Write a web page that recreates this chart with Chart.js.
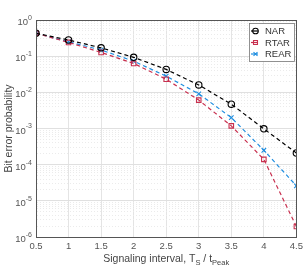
<!DOCTYPE html>
<html>
<head>
<meta charset="utf-8">
<script src="https://cdn.jsdelivr.net/npm/chart.js@4/dist/chart.umd.min.js"></script>
<style>
html,body{margin:0;padding:0;background:#fff;}
#c{display:block;}
</style>
</head>
<body>
<canvas id="c" width="307" height="270"></canvas>
<script>
// ---- data ----
const intervals = [0.5, 1, 1.5, 2, 2.5, 3, 3.5, 4, 4.5];
const narValues  = [0.43, 0.28, 0.17, 0.093, 0.043, 0.016, 0.0047, 0.00098, 0.00021];
const rtarValues = [0.43, 0.24, 0.127, 0.063, 0.023, 0.0061, 0.00118, 0.00014, 0.00000195];
const rearValues = [0.43, 0.25, 0.148, 0.073, 0.028, 0.0091, 0.0020, 0.00025, 0.000026];
const seriesNames = ['NAR', 'RTAR', 'REAR'];
const yExponents = [0, -1, -2, -3, -4, -5, -6];
const xTickLabels = ['0.5', '1', '1.5', '2', '2.5', '3', '3.5', '4', '4.5'];

const FONT = '"Liberation Sans", Arial, Helvetica, sans-serif';
const colors = ['#000000', '#c8304f', '#1f8ee0'];
const styles = ['circle', 'rect', 'crossRot'];

function pts(vals){ return intervals.map((x,i)=>({x:x, y:vals[i]})); }
const allSeries = [narValues, rtarValues, rearValues];

const datasets = allSeries.map((vals, i) => ({
  label: seriesNames[i],
  data: pts(vals),
  borderColor: colors[i],
  backgroundColor: 'rgba(0,0,0,0)',
  borderWidth: 1.2,
  borderDash: [4, 3],
  pointStyle: styles[i],
  pointRadius: 3.2,
  pointBorderWidth: 1.1,
  pointBackgroundColor: 'rgba(0,0,0,0)',
  pointBorderColor: colors[i],
  tension: 0,
  fill: false
}));

function isMajorVal(v){
  const l = Math.log10(v);
  return Math.abs(l - Math.round(l)) < 1e-9;
}

const decorPlugin = {
  id: 'decor',
  afterDraw(chart){
    const ctx = chart.ctx;
    const a = chart.chartArea;
    const ys = chart.scales.y;
    ctx.save();
    // box
    ctx.strokeStyle = '#555';
    ctx.lineWidth = 1;
    ctx.strokeRect(Math.round(a.left)+0.5, Math.round(a.top)+0.5, Math.round(a.right-a.left), Math.round(a.bottom-a.top));

    // y tick labels 10^e
    ctx.fillStyle = '#555';
    ctx.textBaseline = 'middle';
    yExponents.forEach(e => {
      const y = ys.getPixelForValue(Math.pow(10, e));
      const expTxt = e === 0 ? '0' : '-' + Math.abs(e);
      ctx.font = '7px ' + FONT;
      ctx.textAlign = 'right';
      const rx = a.left - 4;
      ctx.fillText(expTxt, rx, y - 2);
      const ew = ctx.measureText(expTxt).width;
      ctx.font = '9.5px ' + FONT;
      ctx.fillText('10', rx - ew, y + 2.5);
    });

    // y title
    ctx.save();
    ctx.translate(9, (a.top + a.bottom)/2);
    ctx.rotate(-Math.PI/2);
    ctx.font = '10.5px ' + FONT;
    ctx.textAlign = 'center';
    ctx.textBaseline = 'middle';
    ctx.fillStyle = '#444';
    ctx.fillText('Bit error probability', 0, 0);
    ctx.restore();

    // x title with subscripts
    const parts = [
      {t:'Signaling interval, T', sub:false},
      {t:'S', sub:true},
      {t:' / t', sub:false},
      {t:'Peak', sub:true}
    ];
    let total = 0;
    parts.forEach(p => {
      ctx.font = (p.sub ? '7.5px ' : '10.5px ') + FONT;
      p.w = ctx.measureText(p.t).width;
      total += p.w;
    });
    let x = (a.left + a.right)/2 - total/2;
    const by = 262;
    ctx.textAlign = 'left';
    ctx.textBaseline = 'alphabetic';
    ctx.fillStyle = '#444';
    parts.forEach(p => {
      ctx.font = (p.sub ? '7.5px ' : '10.5px ') + FONT;
      ctx.fillText(p.t, x, p.sub ? by + 3 : by);
      x += p.w;
    });

    // legend
    const lx = 249.5, ly = 23.5, lw = 45, lh = 38;
    ctx.fillStyle = '#fff';
    ctx.fillRect(lx, ly, lw, lh);
    ctx.strokeStyle = '#777';
    ctx.lineWidth = 0.8;
    ctx.strokeRect(lx, ly, lw, lh);
    const rows = [31, 42.5, 54];
    chart.data.datasets.forEach((ds, i) => {
      const yy = rows[i];
      ctx.strokeStyle = ds.borderColor;
      ctx.lineWidth = 1.2;
      ctx.setLineDash([]);
      ctx.beginPath();
      ctx.moveTo(251, yy); ctx.lineTo(258, yy);
      ctx.stroke();
      if (Chart.helpers && Chart.helpers.drawPoint) {
        ctx.fillStyle = 'rgba(0,0,0,0)';
        ctx.lineWidth = 1.1;
        Chart.helpers.drawPoint(ctx, {pointStyle: ds.pointStyle, radius: 2.8, rotation: 0, borderWidth: 1.1}, 255.5, yy);
      }
      ctx.fillStyle = '#333';
      ctx.font = '9.5px ' + FONT;
      ctx.textAlign = 'left';
      ctx.textBaseline = 'middle';
      ctx.fillText(ds.label, 265, yy + 0.5);
    });
    ctx.restore();
  }
};

new Chart(document.getElementById('c'), {
  type: 'line',
  data: { datasets: datasets },
  options: {
    responsive: false,
    animation: false,
    events: [],
    layout: { padding: { top: 20, right: 10, left: 0, bottom: 0 } },
    plugins: { legend: { display: false }, tooltip: { enabled: false } },
    scales: {
      x: {
        type: 'linear',
        min: 0.5, max: 4.5,
        afterBuildTicks(scale){ scale.ticks = intervals.map(v => ({value: v})); },
        afterFit(scale){ scale.height = 33; },
        ticks: {
          autoSkip: false,
          maxRotation: 0,
          padding: 4,
          color: '#555',
          font: { family: FONT, size: 9.5 },
          callback(v, i){ return xTickLabels[i]; }
        },
        grid: { color: '#e4e4e4', lineWidth: 1, drawTicks: false },
        border: { display: true, color: '#555', width: 1 }
      },
      y: {
        type: 'logarithmic',
        min: 1e-6, max: 1,
        afterBuildTicks(scale){
          const t = [];
          for (let e = -6; e <= 0; e++) {
            for (let m = 1; m <= 9; m++) {
              const v = m * Math.pow(10, e);
              if (v <= 1.0000001) t.push({value: v, major: m === 1});
            }
          }
          scale.ticks = t;
        },
        afterFit(scale){ scale.width = 36; },
        ticks: { display: false, autoSkip: false },
        grid: {
          drawTicks: false,
          color(c){ return c.tick && isMajorVal(c.tick.value) ? '#e0e0e0' : '#ebebeb'; },
          lineWidth: 1
        },
        border: {
          display: true, color: '#555', width: 1,
          dash(c){ return c.tick && !isMajorVal(c.tick.value) ? [1, 2] : []; }
        }
      }
    }
  },
  plugins: [decorPlugin]
});
</script>
</body>
</html>
